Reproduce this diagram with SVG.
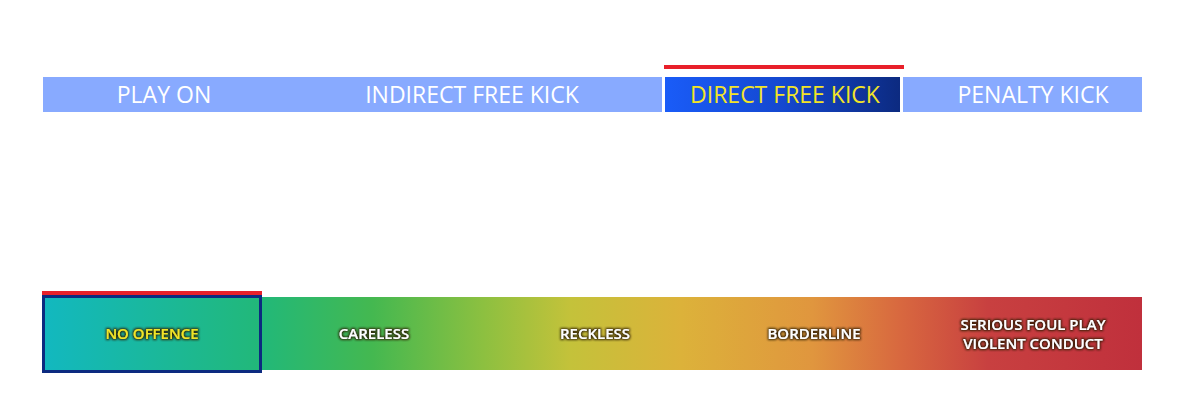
<svg xmlns="http://www.w3.org/2000/svg" width="1190" height="417" viewBox="0 0 1190 417">
<defs>
<linearGradient id="dfk" x1="0" y1="0" x2="1" y2="0">
<stop offset="0" stop-color="#1a5cf8"/>
<stop offset="0.5" stop-color="#1448d0"/>
<stop offset="1" stop-color="#0c2a80"/>
</linearGradient>
<linearGradient id="scale" gradientUnits="userSpaceOnUse" x1="43" y1="0" x2="1142" y2="0">
<stop offset="0" stop-color="#12b8c0"/>
<stop offset="0.2" stop-color="#22b878"/>
<stop offset="0.3" stop-color="#44b850"/>
<stop offset="0.4" stop-color="#8cc040"/>
<stop offset="0.48" stop-color="#c4c23a"/>
<stop offset="0.58" stop-color="#dcb23a"/>
<stop offset="0.7" stop-color="#e0963e"/>
<stop offset="0.78" stop-color="#d8683f"/>
<stop offset="0.86" stop-color="#c84040"/>
<stop offset="1" stop-color="#c0303c"/>
</linearGradient>
<filter id="glow" x="-20%" y="-50%" width="140%" height="200%">
<feMorphology in="SourceAlpha" operator="dilate" radius="1" result="d"/>
<feGaussianBlur in="d" stdDeviation="1.3" result="b"/>
<feFlood flood-color="#2a1a00" flood-opacity="0.9"/>
<feComposite in2="b" operator="in" result="s"/>
<feMerge><feMergeNode in="s"/><feMergeNode in="SourceGraphic"/></feMerge>
</filter>
</defs>
<style>
.top{font-family:"Open Sans","Liberation Sans",sans-serif;font-size:23px;font-weight:500;fill:#ffffff;text-anchor:middle}
.bot{font-family:"Open Sans","Liberation Sans",sans-serif;font-size:15px;font-weight:600;fill:#ffffff;text-anchor:middle;filter:url(#glow)}
.light{fill:#88aaff}
.red{fill:#e8202a}
</style>
<rect width="1190" height="417" fill="#ffffff"/>
<g id="play-on"><rect class="light" x="43" y="77" width="242" height="35"/><text class="top" x="164" y="103">PLAY ON</text></g>
<g id="indirect-free-kick"><rect class="light" x="285" y="77" width="377" height="35"/><text class="top" x="472" y="103">INDIRECT FREE KICK</text></g>
<g id="direct-free-kick"><rect class="red" x="664" y="65" width="240" height="4"/><rect fill="url(#dfk)" x="665" y="77" width="235" height="35"/><text class="top" x="785" y="103" style="fill:#f2e428">DIRECT FREE KICK</text></g>
<g id="penalty-kick"><rect class="light" x="903" y="77" width="239" height="35"/><text class="top" x="1033" y="103">PENALTY KICK</text></g>
<g id="scale-bar"><rect fill="url(#scale)" x="43" y="297" width="1099" height="73"/></g>
<g id="no-offence"><rect class="red" x="42" y="291" width="220" height="5"/><rect x="43.5" y="296.5" width="217" height="75" fill="none" stroke="#0c2a80" stroke-width="3"/><text class="bot" x="152" y="339" style="fill:#f2e428">NO OFFENCE</text></g>
<g id="careless"><text class="bot" x="374" y="339">CARELESS</text></g>
<g id="reckless"><text class="bot" x="595" y="339">RECKLESS</text></g>
<g id="borderline"><text class="bot" x="814" y="339">BORDERLINE</text></g>
<g id="serious"><text class="bot" x="1033" y="330">SERIOUS FOUL PLAY</text><text class="bot" x="1033" y="349">VIOLENT CONDUCT</text></g>
<g id="connectors"/>
</svg>
